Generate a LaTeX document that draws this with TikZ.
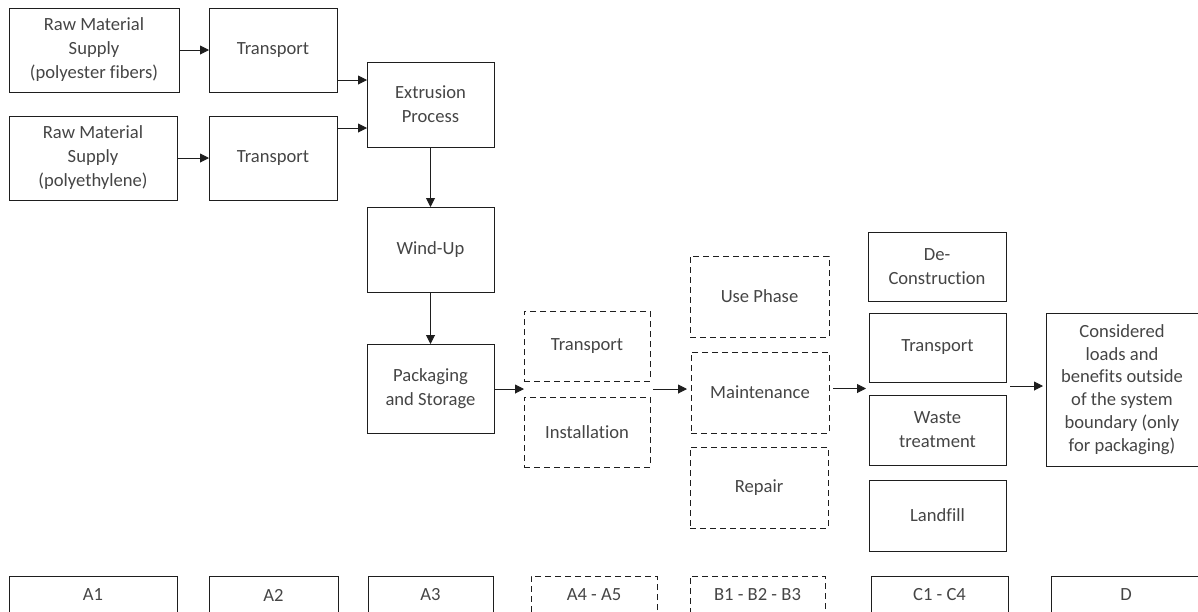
\documentclass[tikz,border=0pt]{standalone}
\usepackage{fontspec}
\setmainfont{Carlito}[Ligatures={NoCommon}]
\usetikzlibrary{arrows.meta,calc}
\definecolor{txt}{HTML}{454545}
\definecolor{ln}{HTML}{1E1E1E}
\begin{document}
\begin{tikzpicture}[x=1pt,y=-1pt,
  box/.style={draw=ln, line width=0.95pt, inner sep=0pt, outer sep=0pt, align=center,
    text=txt, font=\fontsize{18.6}{24}\selectfont},
  dbox/.style={box, dash pattern=on 6pt off 4pt},
  arr/.style={draw=ln, line width=0.95pt, -{Triangle[length=9pt,width=9pt]}}]
\useasboundingbox (0,0) rectangle (1198,611);
\clip (0,0) rectangle (1198,611);
% A1-A3
\node[box, minimum width=170pt, minimum height=84pt] (rm1) at (94,50) {Raw Material\\Supply\\(polyester fibers)};
\node[box, minimum width=128pt, minimum height=84pt] (t1) at (273,50) {Transport};
\node[box, minimum width=168pt, minimum height=84pt] (rm2) at (93,158) {Raw Material\\Supply\\(polyethylene)};
\node[box, minimum width=128pt, minimum height=84pt] (t2) at (273,158) {Transport};
\node[box, minimum width=127pt, minimum height=85pt] (ex) at (430.5,104.5) {Extrusion\\Process};
\node[box, minimum width=127pt, minimum height=85pt] (wu) at (430.5,249.5) {Wind-Up};
\node[box, minimum width=127pt, minimum height=89pt] (pk) at (430.5,388.5) {Packaging\\and Storage};
% A4-A5
\node[dbox, minimum width=126pt, minimum height=70pt] (tr) at (587,346) {Transport};
\node[dbox, minimum width=126pt, minimum height=70pt] (ins) at (587,432) {Installation};
% B
\node[dbox, minimum width=139pt, minimum height=81pt] (use) at (759.5,296.5) {Use Phase};
\node[dbox, minimum width=138pt, minimum height=81pt] (mt) at (760,392.5) {Maintenance};
\node[dbox, minimum width=138pt, minimum height=81pt] (rp) at (759,487.5) {Repair};
% C
\node[box, minimum width=138pt, minimum height=69pt] (dc) at (937,266.5) {De-\\Construction};
\node[box, minimum width=137pt, minimum height=69pt] (tc) at (937.5,347.5) {Transport};
\node[box, minimum width=137pt, minimum height=70pt] (wt) at (937.5,430) {Waste\\treatment};
\node[box, minimum width=137pt, minimum height=71pt] (lf) at (937.5,515.5) {Landfill};
% D
\node[box, minimum width=152pt, minimum height=153pt, font=\fontsize{18.6}{22.8}\selectfont] (cd) at (1122,389.5) {Considered\\loads and\\benefits outside\\of the system\\boundary (only\\for packaging)};
% bottom row
\node[box, minimum width=168pt, minimum height=38pt] (b1) at (93,595) {A1};
\node[box, minimum width=129pt, minimum height=38pt] (b2) at (273.5,595) {A2};
\node[box, minimum width=125pt, minimum height=38pt] (b3) at (430.5,595) {A3};
\node[dbox, minimum width=126pt, minimum height=38pt] (b4) at (594,595) {A4 - A5};
\node[dbox, minimum width=135pt, minimum height=38pt] (b5) at (757.5,595) {B1 - B2 - B3};
\node[box, minimum width=137pt, minimum height=38pt] (b6) at (939.5,595) {C1 - C4};
\node[box, minimum width=150pt, minimum height=38pt] (b7) at (1126,595) {D};
% gap coordinates
\coordinate (g1) at ($(tr.south west)!0.5!(ins.north west)$);
\coordinate (g2) at ($(tr.south east)!0.5!(ins.north east)$);
\coordinate (g3) at ($(tc.south west)!0.5!(wt.north west)$);
\coordinate (g4) at ($(tc.south east)!0.5!(wt.north east)$);
% connectors
\draw[arr] (rm1.east) -- (t1.west);
\draw[arr] (rm2.east) -- (t2.west);
\draw[arr] (t1.east |- 0,80) -- (ex.west |- 0,80);
\draw[arr] (t2.east |- 0,128) -- (ex.west |- 0,128);
\draw[arr] (ex.south) -- (wu.north);
\draw[arr] (wu.south) -- (pk.north);
\draw[arr] (pk.east |- g1) -- (g1);
\draw[arr] ([xshift=3pt]g2) -- ([xshift=-4pt]mt.west |- g2);
\draw[arr] ([xshift=4pt]mt.east |- g3) -- ([xshift=-3pt]g3);
\draw[arr] ([xshift=4pt]g4 |- 0,386) -- ([xshift=-3pt]cd.west |- 0,386);
\end{tikzpicture}
\end{document}
